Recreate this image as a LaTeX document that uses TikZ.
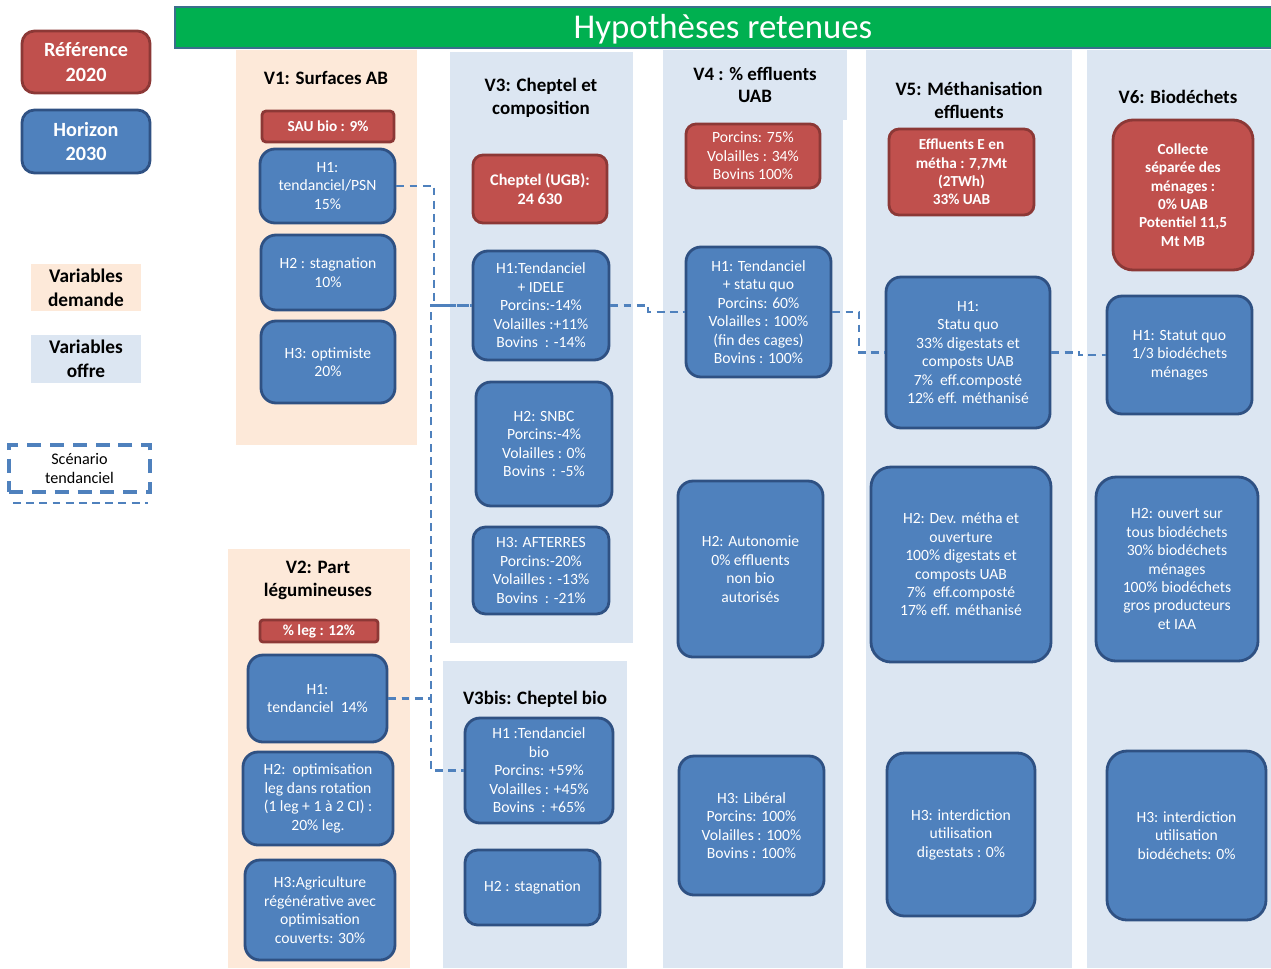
\documentclass[tikz,border=0pt]{standalone}
\usepackage{fontspec}
\setmainfont{Carlito}
\definecolor{bluefill}{HTML}{4F81BD}
\definecolor{bluedark}{HTML}{2F5183}
\definecolor{redfill}{HTML}{C0504D}
\definecolor{reddark}{HTML}{8C3836}
\definecolor{peach}{HTML}{FDE9D9}
\definecolor{paleblue}{HTML}{DCE6F2}
\definecolor{titlegreen}{HTML}{00B050}
\definecolor{titleedge}{HTML}{3A6F8C}
\begin{document}
\begin{tikzpicture}[x=0.02cm,y=-0.02cm,
  area/.style n args={4}{at={({(#1+#3)/2},{(#2+#4)/2})},
    minimum width={(#3-#1)*0.02cm}, minimum height={(#4-#2)*0.02cm}},
  colpeach/.style={fill=peach, inner sep=0pt},
  colblue/.style={fill=paleblue, inner sep=0pt},
  hyp/.style={draw=bluedark, line width=1.6pt, fill=bluefill, rounded corners=0.3cm,
    text=white, align=center, inner sep=1pt, font=\fontsize{8.9}{10.5}\selectfont},
  ref/.style={draw=reddark, line width=1.6pt, fill=redfill, rounded corners=0.2cm,
    text=white, align=center, inner sep=1pt, font=\bfseries\fontsize{8.7}{10.5}\selectfont},
  head/.style={align=center, font=\bfseries\fontsize{10.8}{13}\selectfont},
  legbox/.style={line width=1.6pt, rounded corners=0.25cm, text=white, align=center,
    inner sep=0pt, font=\bfseries\fontsize{11.5}{14}\selectfont},
  legtag/.style={inner sep=0pt, align=center, font=\bfseries\fontsize{11}{13.6}\selectfont},
  conn/.style={draw=bluefill, line width=1.2pt, dash pattern=on 4.5pt off 3pt}]
\useasboundingbox (0,0) rectangle (1271,968);

% title banner
\node[fill=titlegreen, draw=titleedge, line width=1.5pt, inner sep=0pt, area={175}{7}{1285}{48}] (banner) {};
\node[text=white, font=\fontsize{19.8}{23}\selectfont] (title) at (723,29) {Hypothèses retenues};

% legend
\node[legbox, draw=reddark, fill=redfill, area={22}{31}{150}{93}] (legref) {Référence\\2020};
\node[legbox, draw=bluedark, fill=bluefill, area={22}{110}{150}{173}] (leghor) {Horizon\\2030};
\node[legtag, fill=peach, area={31}{264}{141}{311}] (legdem) {Variables\\demande};
\node[legtag, fill=paleblue, area={31}{335}{141}{383}] (legoff) {Variables\\offre};
\node[draw=bluefill, line width=1.8pt, dash pattern=on 8pt off 5pt, inner sep=0pt, align=center,
  font=\fontsize{9.2}{11.2}\selectfont, area={9}{445}{150}{492}] (scen) {Scénario\\tendanciel};
\coordinate (sa) at (13,503);
\coordinate (sb) at (148,503);
\draw[conn] (sa) -- (sb);

% column backgrounds
\node[colpeach, area={236}{50}{417}{445}] (col1) {};
\node[colpeach, area={228}{549}{410}{968}] (col2) {};
\node[colblue, area={450}{52}{633}{643}] (col3) {};
\node[colblue, area={443}{661}{627}{968}] (col3b) {};
\node[colblue, area={663}{50}{843}{968}] (col4) {};
\node[colblue, area={663}{50}{847}{120}] (col4top) {};
\node[colblue, area={866}{50}{1072}{968}] (col5) {};
\node[colblue, area={1087}{50}{1275}{968}] (col6) {};

% V1
\node[head] (t1) at (326,78) {V1: Surfaces AB};
\node[ref, rounded corners=0.08cm, area={262}{111}{394}{142}] (v1r) {SAU bio : 9\%};
\node[hyp, area={260}{149}{395}{223}] (v1h1) {H1:\\tendanciel/PSN\\15\%};
\node[hyp, area={261}{235}{395}{310}] (v1h2) {H2 : stagnation\\10\%};
\node[hyp, area={261}{321}{395}{403}] (v1h3) {H3: optimiste\\20\%};

% V2
\node[head] (t2) at (318,580) {V2: Part\\légumineuses};
\node[ref, rounded corners=0.06cm, area={260}{620}{378}{642}] (v2r) {\% leg : 12\%};
\node[hyp, area={248}{655}{387}{742}] (v2h1) {H1:\\tendanciel\ \ 14\%};
\node[hyp, area={243}{752}{393}{845}] (v2h2) {H2:\ \ optimisation\\leg dans rotation\\(1 leg + 1 à 2 CI) :\\20\% leg.};
\node[hyp, area={245}{860}{395}{960}] (v2h3) {H3:Agriculture\\régénérative avec\\optimisation\\couverts: 30\%};

% V3
\node[head] (t3) at (541,98) {V3: Cheptel et\\composition};
\node[ref, font=\bfseries\fontsize{9.2}{11}\selectfont, area={473}{155}{607}{223}] (v3r) {Cheptel (UGB):\\24 630};
\node[hyp, area={473}{251}{609}{360}] (v3h1) {H1:Tendanciel\\+ IDELE\\Porcins:-14\%\\Volailles :+11\%\\Bovins\ \ : -14\%};
\node[hyp, area={476}{382}{612}{506}] (v3h2) {H2: SNBC\\Porcins:-4\%\\Volailles : 0\%\\Bovins\ \ : -5\%};
\node[hyp, rounded corners=0.25cm, area={473}{527}{609}{614}] (v3h3) {H3: AFTERRES\\Porcins:-20\%\\Volailles : -13\%\\Bovins\ \ : -21\%};

% V3bis
\node[head] (t3b) at (535,699) {V3bis: Cheptel bio};
\node[hyp, area={465}{718}{613}{823}] (v3bh1) {H1 :Tendanciel\\bio\\Porcins: +59\%\\Volailles : +45\%\\Bovins\ \ : +65\%};
\node[hyp, rounded corners=0.25cm, area={465}{850}{600}{925}] (v3bh2) {H2 : stagnation};

% V4
\node[head] (t4) at (755,85) {V4 : \% effluents\\UAB};
\node[ref, font=\fontsize{8.9}{10.5}\selectfont, area={686}{124}{820}{188}] (v4r) {Porcins: 75\%\\Volailles : 34\%\\Bovins 100\%};
\node[hyp, area={686}{247}{831}{377}] (v4h1) {H1: Tendanciel\\+ statu quo\\Porcins: 60\%\\Volailles : 100\%\\(fin des cages)\\Bovins : 100\%};
\node[hyp, area={678}{481}{823}{657}] (v4h2) {H2: Autonomie\\0\% effluents\\non bio\\autorisés};
\node[hyp, area={679}{756}{824}{895}] (v4h3) {H3: Libéral\\Porcins: 100\%\\Volailles : 100\%\\Bovins : 100\%};

% V5
\node[head] (t5) at (969,100) {V5: Méthanisation\\effluents};
\node[ref, area={889}{129}{1034}{215}] (v5r) {Effluents E en\\métha : 7,7Mt\\(2TWh)\\33\% UAB};
\node[hyp, area={886}{277}{1050}{428}] (v5h1) {H1:\\Statu quo\\33\% digestats et\\composts UAB\\7\%\ \ eff.composté\\12\% eff. méthanisé};
\node[hyp, rounded corners=0.4cm, area={871}{467}{1051}{662}] (v5h2) {H2: Dev. métha et\\ouverture\\100\% digestats et\\composts UAB\\7\%\ \ eff.composté\\17\% eff. méthanisé};
\node[hyp, rounded corners=0.35cm, area={887}{753}{1035}{916}] (v5h3) {H3: interdiction\\utilisation\\digestats : 0\%};

% V6
\node[head] (t6) at (1178,97) {V6: Biodéchets};
\node[ref, rounded corners=0.4cm, area={1113}{120}{1253}{270}] (v6r) {Collecte\\séparée des\\ménages :\\0\% UAB\\Potentiel 11,5\\Mt MB};
\node[hyp, area={1107}{296}{1252}{414}] (v6h1) {H1: Statut quo\\1/3 biodéchets\\ménages};
\node[hyp, rounded corners=0.4cm, area={1096}{477}{1258}{661}] (v6h2) {H2: ouvert sur\\tous biodéchets\\30\% biodéchets\\ménages\\100\% biodéchets\\gros producteurs\\et IAA};
\node[hyp, rounded corners=0.4cm, area={1107}{751}{1266}{920}] (v6h3) {H3: interdiction\\utilisation\\biodéchets: 0\%};

% dashed links of the trend scenario
\draw[conn] (v1h1.east) -- ++(38,0) |- (v3h1.west);
\draw[conn] (v2h1.east) -- ++(43,0) |- (v3h1.west);
\draw[conn] (v2h1.east) -- ++(43,0) |- (v3bh1.west);
\draw[conn] (v3h1.east) -- ++(38,0) |- (v4h1.west);
\draw[conn] (v4h1.east) -- ++(27,0) |- (v5h1.west);
\draw[conn] (v5h1.east) -- ++(28,0) |- (v6h1.west);
\end{tikzpicture}
\end{document}
